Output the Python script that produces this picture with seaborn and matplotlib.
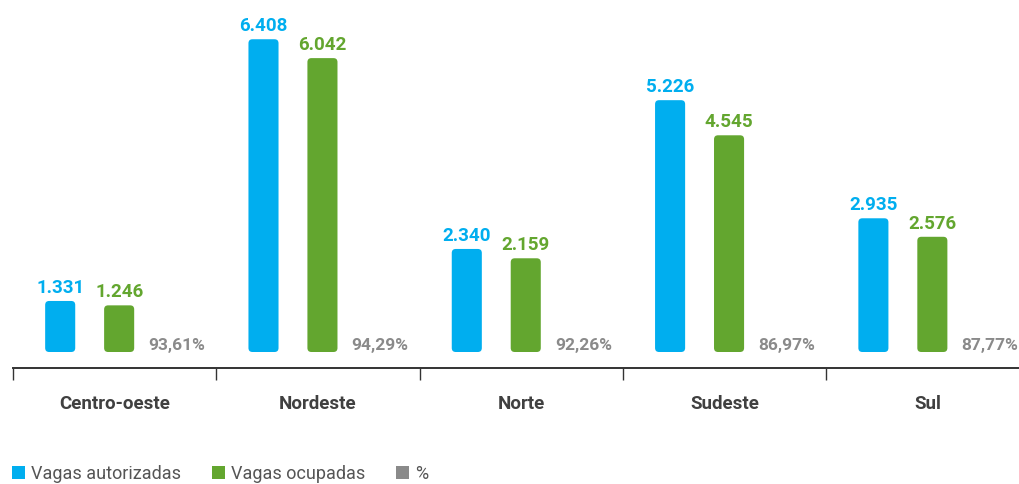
import numpy as np
import pandas as pd
import matplotlib
matplotlib.use("Agg")
import matplotlib.pyplot as plt
from matplotlib.patches import FancyBboxPatch, Patch
from matplotlib.ticker import FixedLocator
import seaborn as sns

# ---- data ----
regioes = ["Centro-oeste", "Nordeste", "Norte", "Sudeste", "Sul"]
vagas_autorizadas = [1331, 6408, 2340, 5226, 2935]
vagas_ocupadas = [1246, 6042, 2159, 4545, 2576]
percentuais = [93.61, 94.29, 92.26, 86.97, 87.77]
series = ["Vagas autorizadas", "Vagas ocupadas", "%"]
cores = ["#00AEEF", "#63A62F", "#8A8A8A"]

sns.set_theme(style="white")
plt.rcParams["font.family"] = ["Roboto", "DejaVu Sans"]

df = pd.DataFrame({
    "regiao": regioes * 3,
    "serie": [series[0]] * 5 + [series[1]] * 5 + [series[2]] * 5,
    "valor": vagas_autorizadas + vagas_ocupadas + [0] * 5,
})

W, H = 1020, 484
fig = plt.figure(figsize=(W / 100, H / 100), dpi=100)
px_unit = 203.3
left_px, base_px = 13, 352
ax = fig.add_axes([left_px / W, (H - base_px) / H, (W - left_px) / W, base_px / H])

sns.barplot(data=df, x="regiao", y="valor", hue="serie", order=regioes,
            hue_order=series, palette=cores, width=0.87, gap=0.49,
            legend=False, ax=ax, saturation=1, linewidth=0)

x0 = -0.5 - 4.5 / px_unit
ax.set_xlim(x0, x0 + (W - left_px) / px_unit)
ymin = 341
py_unit = 0.05155
ax.set_ylim(ymin, ymin + base_px / py_unit)

# rounded bars replacing seaborn rectangles
rad_px = 4
rx = rad_px / px_unit
aspect = (rad_px / py_unit) / rx
bars = list(ax.patches)
for b in bars:
    h = b.get_height()
    if h <= 0:
        continue
    fb = FancyBboxPatch((b.get_x(), ymin), b.get_width(), h - ymin,
                        boxstyle=f"round,pad=0,rounding_size={rx}",
                        mutation_aspect=aspect, facecolor=b.get_facecolor(),
                        edgecolor="none", clip_on=False)
    ax.add_patch(fb)
    b.set_visible(False)

def fmt_milhar(v):
    return f"{v:,}".replace(",", ".")

lfs = 13.5
# value labels
for cont, cor, vals in zip(ax.containers[:2], cores[:2], [vagas_autorizadas, vagas_ocupadas]):
    for b, v in zip(cont, vals):
        ax.annotate(fmt_milhar(v), (b.get_x() + b.get_width() / 2, v),
                    xytext=(0, 3), textcoords="offset points", ha="center",
                    va="bottom", fontsize=lfs, fontweight="bold", color=cor,
                    annotation_clip=False)
for b, p in zip(ax.containers[2], percentuais):
    ax.annotate(f"{p:.2f}".replace(".", ",") + "%", (b.get_x() + b.get_width() / 2, ymin),
                xytext=(-1, 1.2), textcoords="offset points", ha="center",
                va="baseline", fontsize=12.5, fontweight="bold", color=cores[2],
                annotation_clip=False)

for s in ["top", "left", "right"]:
    ax.spines[s].set_visible(False)
ax.spines["bottom"].set_position(("outward", 16 * 0.72))
ax.spines["bottom"].set_color("#333333")
ax.spines["bottom"].set_linewidth(1.4)
ax.set_yticks([])
ax.set_xlabel("")
ax.set_ylabel("")
ax.set_xticks(np.arange(5) - 4.5 / px_unit)
ax.set_xticklabels(regioes, fontsize=lfs, fontweight="bold", color="#404040")
ax.xaxis.set_minor_locator(FixedLocator(np.arange(6) - 0.5 - 4.5 / px_unit))
ax.tick_params(axis="x", which="major", length=0, pad=19.5)
ax.tick_params(axis="x", which="minor", length=12 * 0.72, width=1.0,
               color="#333333", direction="out", bottom=True)

handles = [Patch(facecolor=c, edgecolor="none") for c in cores]
fs = 13
em = fs / 0.72
fig.legend(handles, series, loc="lower left", bbox_to_anchor=(11 / W, 0.0),
           ncol=3, frameon=False, fontsize=fs, labelcolor="#555555",
           handlelength=13 / em, handleheight=13 / em, handletextpad=6 / em,
           columnspacing=31 / em, borderpad=0.05, borderaxespad=0)

fig.savefig("out.png", dpi=100)
